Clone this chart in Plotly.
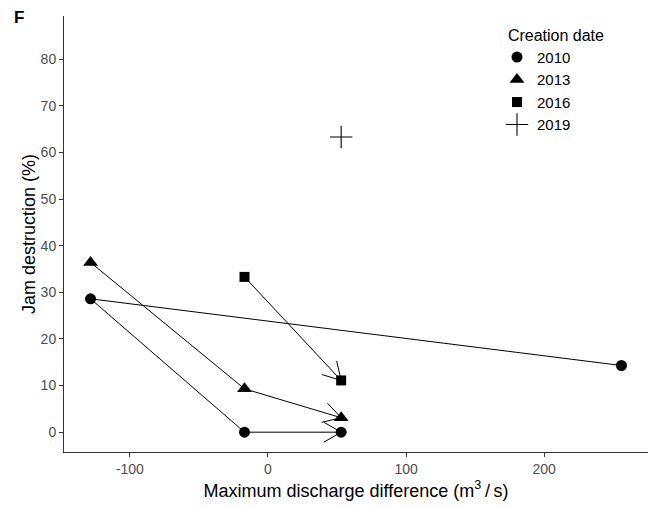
import numpy as np
import plotly.graph_objects as go

# Creation dates (legend entries) and marker shapes
dates = ["2010", "2013", "2016", "2019"]
symbols = ["circle", "triangle-up", "square", "cross-thin"]
marker_sizes = [11, 13, 10, 16]

# Maximum discharge difference (m3/s) along each cohort's path
disch_2010 = [256, -128.5, -17, 53]
disch_2013 = [-128.5, -17, 53]
disch_2016 = [-17, 53]
disch_2019 = [53]

# Jam destruction (%) along each cohort's path
destr_2010 = [14.3, 28.6, 0, 0]
destr_2013 = [36.4, 9.3, 3.1]
destr_2016 = [33.3, 11.1]
destr_2019 = [63.3]

x_ticks = [-100, 0, 100, 200]
x_tick_text = ["-100", "0", "100", "200"]
y_ticks = [0, 10, 20, 30, 40, 50, 60, 70, 80]

series_x = [disch_2010, disch_2013, disch_2016, disch_2019]
series_y = [destr_2010, destr_2013, destr_2016, destr_2019]

FONT = "Liberation Sans, Arial"

# Figure geometry
W, H = 651, 507
M = dict(l=64, r=3, t=16, b=55)
plot_w = W - M["l"] - M["r"]
plot_h = H - M["t"] - M["b"]

# ggplot-like 5% expansion on x, fixed 0-85 limits on y
all_x = [v for s in series_x for v in s]
x_lo, x_hi = min(all_x), max(all_x)
pad = 0.05 * (x_hi - x_lo)
x_range = [x_lo - pad, x_hi + pad]
y_range = [0 - 0.05 * 85, 85 + 0.05 * 85]

px_per_x = plot_w / (x_range[1] - x_range[0])
px_per_y = plot_h / (y_range[1] - y_range[0])

fig = go.Figure()

# Paths connecting the observations of each cohort
for xs, ys in zip(series_x, series_y):
    if len(xs) > 1:
        fig.add_trace(go.Scatter(x=xs, y=ys, mode="lines",
                                 line=dict(color="black", width=1),
                                 showlegend=False, hoverinfo="skip"))


def arrow_arms(xs, ys, length=20, angle=30):
    """Open arrowhead on the last segment, computed in screen pixels."""
    dx = (xs[-1] - xs[-2]) * px_per_x
    dy = (ys[-1] - ys[-2]) * px_per_y
    n = np.hypot(dx, dy)
    ux, uy = dx / n, dy / n
    ax, ay = [], []
    for sgn in (1, -1):
        a = np.radians(angle) * sgn
        rx = ux * np.cos(a) - uy * np.sin(a)
        ry = ux * np.sin(a) + uy * np.cos(a)
        ax += [xs[-1] - length * rx / px_per_x, xs[-1], None]
        ay += [ys[-1] - length * ry / px_per_y, ys[-1], None]
    return ax, ay


for xs, ys in zip(series_x, series_y):
    if len(xs) > 1:
        ax, ay = arrow_arms(xs, ys)
        fig.add_trace(go.Scatter(x=ax, y=ay, mode="lines",
                                 line=dict(color="black", width=1),
                                 showlegend=False, hoverinfo="skip"))

# Points, one trace per creation date
for d, sym, sz, xs, ys in zip(dates, symbols, marker_sizes, series_x, series_y):
    fig.add_trace(go.Scatter(
        x=xs, y=ys, mode="markers", name=d,
        marker=dict(symbol=sym, size=sz, color="black",
                    line=dict(color="black", width=1.1 if "thin" in sym else 0)),
    ))

axis_common = dict(
    showline=True, linecolor="#333333", linewidth=1,
    ticks="outside", ticklen=4, tickcolor="#333333", tickwidth=1,
    showgrid=False, zeroline=False,
    tickfont=dict(family=FONT, size=14, color="#4D4D4D"),
)

fig.update_xaxes(range=x_range, tickvals=x_ticks, ticktext=x_tick_text, **axis_common,
                 title=dict(text="Maximum discharge difference (m<sup>3</sup>\u2009/\u2009s)",
                            font=dict(family=FONT, size=18, color="black"),
                            standoff=8))
fig.update_yaxes(range=y_range, tickvals=y_ticks, **axis_common,
                 title=dict(text="Jam destruction (%)",
                            font=dict(family=FONT, size=18, color="black"),
                            standoff=0))

fig.update_layout(
    width=W, height=H, margin=M,
    plot_bgcolor="white", paper_bgcolor="white",
    font=dict(family=FONT, color="black"),
    legend=dict(
        title=dict(text="\u00a0\u00a0Creation date", font=dict(family=FONT, size=16, color="black")),
        font=dict(family=FONT, size=15, color="black"),
        x=(497 - M["l"]) / plot_w, y=1 - 4 / plot_h, xanchor="left", yanchor="top",
        bgcolor="rgba(0,0,0,0)", tracegroupgap=0,
    ),
    annotations=[dict(text="<b>F</b>", xref="paper", yref="paper",
                      x=(12 - M["l"]) / plot_w, y=(H - M["b"] - 6) / plot_h,
                      xanchor="left", yanchor="top", showarrow=False,
                      font=dict(family=FONT, size=17, color="black"))],
)

fig.write_html("out.html")
